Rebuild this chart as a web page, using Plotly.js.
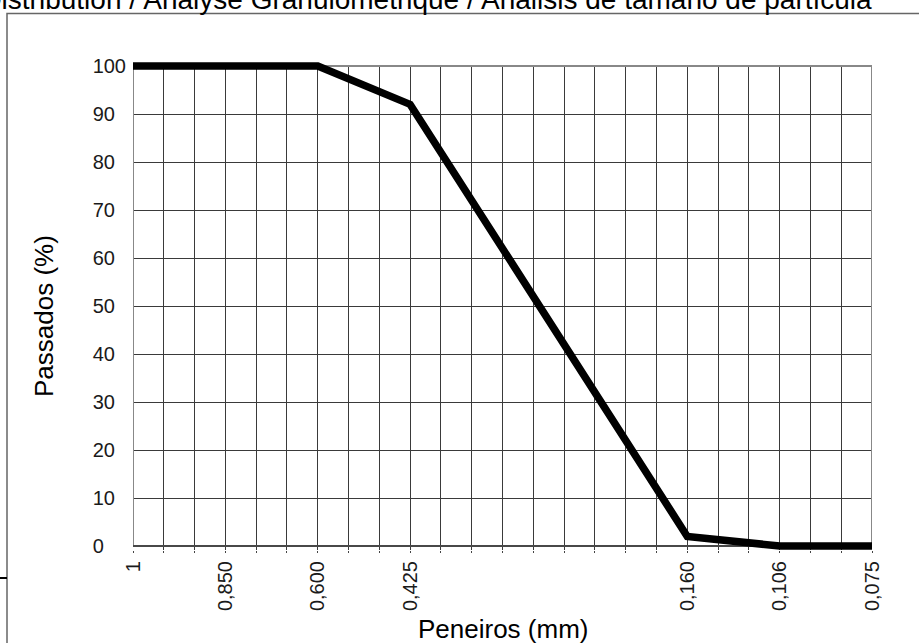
<!DOCTYPE html>
<html>
<head>
<meta charset="utf-8">
<script src="https://cdn.plot.ly/plotly-3.0.1.min.js"></script>
<style>
  html, body { margin: 0; padding: 0; background: #ffffff; }
  #chart { width: 919px; height: 643px; }
</style>
</head>
<body>
<div id="chart"></div>
<script>
// ---- data ----
const chartTitle = 'Particle Size Distribution / Analyse Granulométrique / Análisis de tamaño de partícula';
const xTitle = 'Peneiros (mm)';
const yTitle = 'Passados (%)';

// one slot per vertical grid line of the sieve axis (24 columns)
const sieveTickLabels = ['1', '', '', '0,850', '', '', '0,600', '', '', '0,425', '', '', '', '', '', '', '', '', '0,160', '', '', '0,106', '', '', '0,075'];
// sieves tested: slot on the sieve axis and % passing
const sieveSlot = [0, 3, 6, 9, 18, 21, 24];
const sieveName = ['1', '0,850', '0,600', '0,425', '0,160', '0,106', '0,075'];
const passedPct = [100, 100, 100, 92, 2, 0, 0];

const yTickValues = [0, 10, 20, 30, 40, 50, 60, 70, 80, 90, 100];

// ---- build ----
const FONT = 'Arial, "Liberation Sans", sans-serif';
const xTickVals = sieveTickLabels.map((_, i) => i);
const xMax = sieveTickLabels.length - 1;
const NBSP = '\u00a0';
const maxLen = Math.max(...yTickValues.map(v => String(v).length));
// left-aligned look: pad shorter labels (two spaces = one digit width)
const yTickText = yTickValues.map(v => String(v) + NBSP.repeat(2 * (maxLen - String(v).length)));

const M = { l: 133, r: 47, t: 62, b: 93 };
const plotH = 643 - M.t - M.b;   // 488
const plotW = 919 - M.l - M.r;   // 739
const padPx = 4;
const pxPerUnit = (plotH - 2 * padPx) / 100;
const padUnits = padPx / pxPerUnit;
const yMin = yTickValues[0], yMax = yTickValues[yTickValues.length - 1];

const traces = [{
  type: 'scatter',
  mode: 'lines',
  x: sieveSlot,
  y: passedPct,
  text: sieveName,
  line: { color: '#000000', width: 7.5 },
  hoverinfo: 'text+y'
}];

const layout = {
  width: 919,
  height: 643,
  margin: { l: M.l, r: M.r, t: M.t, b: M.b, pad: 0 },
  paper_bgcolor: '#ffffff',
  plot_bgcolor: '#ffffff',
  showlegend: false,
  font: { family: FONT, color: '#000000' },
  xaxis: {
    range: [0, xMax],
    tickmode: 'array',
    tickvals: xTickVals,
    ticktext: sieveTickLabels,
    tickangle: -90,
    ticks: 'outside',
    ticklen: 2,
    tickwidth: 1,
    tickcolor: '#444444',
    ticklabelstandoff: 0,
    tickfont: { family: FONT, size: 20, color: '#1a1a1a' },
    showgrid: true,
    gridcolor: '#3a3a3a',
    gridwidth: 1,
    zeroline: false,
    showline: false,
    fixedrange: true
  },
  yaxis: {
    range: [yMin - padUnits, yMax + padUnits],
    tickmode: 'array',
    tickvals: yTickValues,
    ticktext: yTickText,
    ticks: '',
    ticklabelstandoff: 6,
    tickfont: { family: FONT, size: 20, color: '#1a1a1a' },
    showgrid: true,
    gridcolor: '#3a3a3a',
    gridwidth: 1,
    zeroline: false,
    showline: false,
    fixedrange: true
  },
  shapes: [
    // hide grid stubs above the plot frame
    { type: 'rect', xref: 'x', yref: 'y', x0: 0, x1: xMax, y0: yMax, y1: yMax + padUnits + 1,
      line: { width: 0 }, fillcolor: '#ffffff', layer: 'between' },
    // plot frame
    { type: 'rect', xref: 'x', yref: 'y', x0: 0, x1: xMax, y0: yMin, y1: yMax,
      line: { color: '#888888', width: 2 }, fillcolor: 'rgba(0,0,0,0)', layer: 'between' },
    // darker bottom edge
    { type: 'line', xref: 'x', yref: 'y', x0: 0, x1: xMax, y0: yMin, y1: yMin,
      line: { color: '#333333', width: 1.5 }, layer: 'between' },
    // outer chart-area frame
    { type: 'rect', xref: 'paper', yref: 'paper',
      x0: (7 - M.l) / plotW, x1: (930 - M.l) / plotW,
      y0: (M.t + plotH - 670) / plotH, y1: (M.t + plotH - 13.5) / plotH,
      line: { color: '#666666', width: 1.5 }, fillcolor: 'rgba(0,0,0,0)', layer: 'below' },
    // small mark at far left
    { type: 'line', xref: 'paper', yref: 'paper',
      x0: (-2 - M.l) / plotW, x1: (7 - M.l) / plotW,
      y0: (M.t + plotH - 578) / plotH, y1: (M.t + plotH - 578) / plotH,
      line: { color: '#000000', width: 2 }, layer: 'above' }
  ],
  annotations: [
    { text: chartTitle, xref: 'paper', yref: 'paper',
      x: (874 - M.l) / plotW, y: (M.t + plotH + 1) / plotH,
      xanchor: 'right', yanchor: 'middle', showarrow: false,
      font: { family: FONT, size: 28, color: '#000000' } },
    { text: xTitle, xref: 'paper', yref: 'paper',
      x: 0.5, y: (M.t + plotH - 629) / plotH,
      xanchor: 'center', yanchor: 'middle', showarrow: false,
      font: { family: FONT, size: 26, color: '#000000' } },
    { text: yTitle, xref: 'paper', yref: 'paper',
      x: (44 - M.l) / plotW, y: (M.t + plotH - 316) / plotH,
      xanchor: 'center', yanchor: 'middle', textangle: -90, showarrow: false,
      font: { family: FONT, size: 26, color: '#000000' } }
  ]
};

Plotly.newPlot('chart', traces, layout, { displayModeBar: false, staticPlot: true });
</script>
</body>
</html>
